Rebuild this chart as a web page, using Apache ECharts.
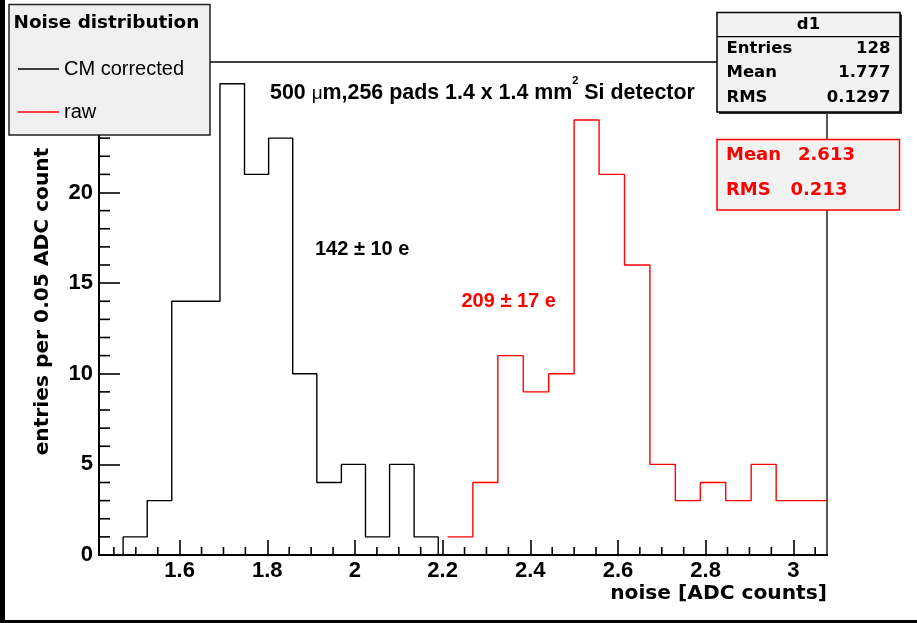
<!DOCTYPE html>
<html>
<head>
<meta charset="utf-8">
<script src="https://cdn.jsdelivr.net/npm/echarts@6/dist/echarts.min.js"></script>
<style>
html,body{margin:0;padding:0;background:#fff;}
#chart{width:917px;height:623px;}
</style>
</head>
<body>
<div id="chart"></div>
<script>
// ---- data ----
var xMin = 1.416, xMax = 3.077;
var yMin = 0, yMax = 27.2;
var xMajorTicks = [1.6, 1.8, 2.0, 2.2, 2.4, 2.6, 2.8, 3.0];
var xMinorTicks = [1.45, 1.5, 1.55, 1.65, 1.7, 1.75, 1.85, 1.9, 1.95, 2.05, 2.1, 2.15, 2.25, 2.3, 2.35,
                   2.45, 2.5, 2.55, 2.65, 2.7, 2.75, 2.85, 2.9, 2.95, 3.05];
var yMajorTicks = [0, 5, 10, 15, 20, 25];
var yMinorTicks = [1, 2, 3, 4, 6, 7, 8, 9, 11, 12, 13, 14, 16, 17, 18, 19, 21, 22, 23, 24, 26, 27];

// CM corrected histogram (black)
var cmEdges = [1.471, 1.526, 1.582, 1.637, 1.692, 1.748, 1.803, 1.858, 1.913, 1.969, 2.024, 2.079, 2.135, 2.190];
var cmCounts = [1, 3, 14, 14, 26, 21, 23, 10, 4, 5, 1, 5, 1];

// raw histogram (red)
var rawEdges = [2.211, 2.269, 2.326, 2.384, 2.442, 2.500, 2.557, 2.615, 2.673, 2.731, 2.788, 2.846, 2.904, 2.961, 3.019, 3.077];
var rawCounts = [1, 4, 11, 9, 10, 24, 21, 16, 5, 3, 4, 3, 5, 3, 3];

// ---- build step outlines from bin edges / counts ----
function outline(edges, counts, closeToZero) {
  var pts = [];
  if (closeToZero) pts.push([edges[0], 0]);
  for (var i = 0; i < counts.length; i++) {
    pts.push([edges[i], counts[i]]);
    pts.push([edges[i + 1], counts[i]]);
  }
  if (closeToZero) pts.push([edges[edges.length - 1], 0]);
  return pts;
}

var BOLD_DV = '"DejaVu Sans"';
var ARIAL = '"Liberation Sans", Arial, sans-serif';
var RED = '#ff0000';

var chart = echarts.init(document.getElementById('chart'));

var baseGraphic = [
    // outer dark borders of the picture
    {type: 'rect', z: 200, shape: {x: 0, y: 0, width: 5, height: 623}, style: {fill: '#000'}},
    {type: 'rect', z: 200, shape: {x: 0, y: 620, width: 917, height: 3}, style: {fill: '#000'}},
    // legend box
    {type: 'rect', z: 100, shape: {x: 9, y: 4.5, width: 201, height: 130.5},
      style: {fill: '#f0f0f0', stroke: '#222', lineWidth: 1.5}},
    {type: 'text', z: 101, x: 13.5, y: 23.5,
      style: {text: 'Noise distribution', font: 'bold 18.4px ' + BOLD_DV, fill: '#000', align: 'left', verticalAlign: 'middle'}},
    // stats box d1
    {type: 'rect', z: 100, shape: {x: 719, y: 14.5, width: 183, height: 99.5}, style: {fill: '#333'}},
    {type: 'rect', z: 101, shape: {x: 717, y: 12.5, width: 183, height: 99.5},
      style: {fill: '#f2f2f2', stroke: '#000', lineWidth: 1.5}},
    {type: 'line', z: 102, shape: {x1: 717, y1: 36.7, x2: 900, y2: 36.7}, style: {stroke: '#000', lineWidth: 1.3}},
    {type: 'text', z: 102, x: 808.5, y: 24.3,
      style: {text: 'd1', font: 'bold 16.5px ' + BOLD_DV, fill: '#000', align: 'center', verticalAlign: 'middle'}},
    {type: 'text', z: 102, x: 726.5, y: 48.3,
      style: {text: 'Entries', font: 'bold 16.5px ' + BOLD_DV, fill: '#000', align: 'left', verticalAlign: 'middle'}},
    {type: 'text', z: 102, x: 890.5, y: 48.3,
      style: {text: '128', font: 'bold 16.5px ' + BOLD_DV, fill: '#000', align: 'right', verticalAlign: 'middle'}},
    {type: 'text', z: 102, x: 726.5, y: 72.7,
      style: {text: 'Mean', font: 'bold 16.5px ' + BOLD_DV, fill: '#000', align: 'left', verticalAlign: 'middle'}},
    {type: 'text', z: 102, x: 890.5, y: 72.7,
      style: {text: '1.777', font: 'bold 16.5px ' + BOLD_DV, fill: '#000', align: 'right', verticalAlign: 'middle'}},
    {type: 'text', z: 102, x: 726.5, y: 97.5,
      style: {text: 'RMS', font: 'bold 16.5px ' + BOLD_DV, fill: '#000', align: 'left', verticalAlign: 'middle'}},
    {type: 'text', z: 102, x: 890.5, y: 97.5,
      style: {text: '0.1297', font: 'bold 16.5px ' + BOLD_DV, fill: '#000', align: 'right', verticalAlign: 'middle'}},
    // red stats box (raw)
    {type: 'rect', z: 100, shape: {x: 717, y: 139.5, width: 182.5, height: 70.5},
      style: {fill: '#f2f2f2', stroke: RED, lineWidth: 1.5}},
    {type: 'text', z: 101, x: 726, y: 155,
      style: {text: 'Mean', font: 'bold 18px ' + BOLD_DV, fill: RED, align: 'left', verticalAlign: 'middle'}},
    {type: 'text', z: 101, x: 798, y: 155,
      style: {text: '2.613', font: 'bold 18px ' + BOLD_DV, fill: RED, align: 'left', verticalAlign: 'middle'}},
    {type: 'text', z: 101, x: 726, y: 190.5,
      style: {text: 'RMS', font: 'bold 18px ' + BOLD_DV, fill: RED, align: 'left', verticalAlign: 'middle'}},
    {type: 'text', z: 101, x: 790.5, y: 190.5,
      style: {text: '0.213', font: 'bold 18px ' + BOLD_DV, fill: RED, align: 'left', verticalAlign: 'middle'}},
    // title inside plot
    {type: 'text', z: 50, x: 270, y: 93.5,
      style: {
        text: '500 {mu|\u03bc}m,256 pads 1.4 x 1.4 mm{sup|2} Si detector',
        font: 'bold 21.4px ' + ARIAL, lineHeight: 36, fill: '#000', align: 'left', verticalAlign: 'middle',
        rich: {
          mu: {fontFamily: ARIAL, fontWeight: 'normal', fontSize: 19, fill: '#000'},
          sup: {fontFamily: ARIAL, fontWeight: 'bold', fontSize: 11, lineHeight: 12, verticalAlign: 'top', fill: '#000'}
        }
      }},
    // annotations
    {type: 'text', z: 50, x: 315, y: 249,
      style: {text: '142 \u00b1 10 e', font: 'bold 20px ' + ARIAL, fill: '#000', align: 'left', verticalAlign: 'middle'}},
    {type: 'text', z: 50, x: 461.5, y: 301.5,
      style: {text: '209 \u00b1 17 e', font: 'bold 20px ' + ARIAL, fill: RED, align: 'left', verticalAlign: 'middle'}},
    // axis titles
    {type: 'text', z: 50, x: 827, y: 594,
      style: {text: 'noise [ADC counts]', font: 'bold 20.2px ' + BOLD_DV, fill: '#000', align: 'right', verticalAlign: 'middle'}},
    {type: 'text', z: 50, x: 43, y: 301.5, rotation: Math.PI / 2,
      style: {text: 'entries per 0.05 ADC count', font: 'bold 20.2px ' + BOLD_DV, fill: '#000', align: 'center', verticalAlign: 'middle'}}
];

var option = {
  backgroundColor: '#ffffff',
  animation: false,
  grid: {
    left: 99, top: 62, width: 728, height: 493,
    show: true, borderColor: '#000', borderWidth: 1.3
  },
  legend: {
    data: ['CM corrected', 'raw'],
    orient: 'vertical',
    left: 13, top: 54,
    icon: 'rect',
    itemWidth: 41, itemHeight: 1.5, itemGap: 23,
    selectedMode: false,
    textStyle: {fontFamily: ARIAL, fontSize: 20, color: '#000'},
    z: 120
  },
  xAxis: {
    type: 'value', min: xMin, max: xMax,
    axisLine: {show: true, onZero: false, lineStyle: {color: '#000', width: 2}},
    axisTick: {show: true, inside: true, length: 15, customValues: xMajorTicks, lineStyle: {color: '#000', width: 1.6}},
    axisLabel: {customValues: xMajorTicks, margin: 5,
      fontFamily: ARIAL, fontWeight: 'bold', fontSize: 22, color: '#000'},
    splitLine: {show: false}
  },
  yAxis: {
    type: 'value', min: yMin, max: yMax,
    axisLine: {show: true, onZero: false, lineStyle: {color: '#000', width: 2}},
    axisTick: {show: true, inside: true, length: 21, customValues: yMajorTicks, lineStyle: {color: '#000', width: 1.6}},
    axisLabel: {customValues: yMajorTicks, margin: 6,
      fontFamily: ARIAL, fontWeight: 'bold', fontSize: 22, color: '#000'},
    splitLine: {show: false}
  },
  series: [{
    name: 'CM corrected', type: 'line',
    data: outline(cmEdges, cmCounts, true),
    symbol: 'none',
    lineStyle: {color: '#000', width: 1.4}, itemStyle: {color: '#000'},
    z: 3
  }, {
    name: 'raw', type: 'line',
    data: outline(rawEdges, rawCounts, false),
    symbol: 'none',
    lineStyle: {color: RED, width: 1.4}, itemStyle: {color: RED},
    z: 4
  }],
  graphic: baseGraphic
};

chart.setOption(option);

// minor tick marks: positions come from the axes' own scales via convertToPixel
var tickEls = [];
function addTicks(values, horizontal, len) {
  values.forEach(function (v) {
    var p = chart.convertToPixel({xAxisIndex: 0, yAxisIndex: 0}, horizontal ? [v, yMin] : [xMin, v]);
    if (!p) return;
    tickEls.push({
      type: 'line', z: 60,
      shape: horizontal
        ? {x1: p[0], y1: p[1], x2: p[0], y2: p[1] - len}
        : {x1: p[0], y1: p[1], x2: p[0] + len, y2: p[1]},
      style: {stroke: '#000', lineWidth: 1.6}
    });
  });
}
addTicks(xMinorTicks, true, 8);
addTicks(yMinorTicks, false, 11);
option.graphic = baseGraphic.concat(tickEls);
chart.setOption(option, true);
</script>
</body>
</html>
